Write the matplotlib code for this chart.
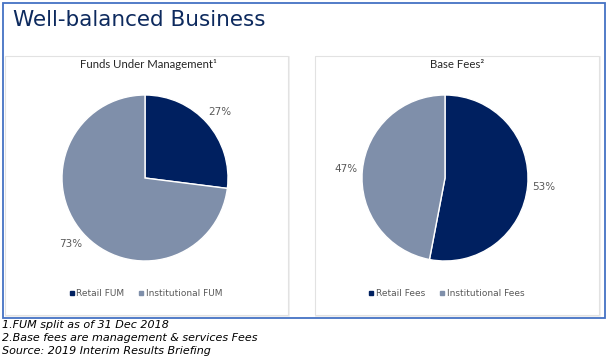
import matplotlib
matplotlib.use("Agg")
import matplotlib.pyplot as plt
from matplotlib.patches import Rectangle
from matplotlib.lines import Line2D

# ---- data ----
title = "Well-balanced Business"
fum_labels = ["Retail FUM", "Institutional FUM"]
fum_values = [27, 73]
fees_labels = ["Retail Fees", "Institutional Fees"]
fees_values = [53, 47]
panel_titles = ["Funds Under Management\u00b9", "Base Fees\u00b2"]
footnotes = ["1.FUM split as of 31 Dec 2018",
             "2.Base fees are management & services Fees",
             "Source: 2019 Interim Results Briefing"]
colors = ["#002060", "#7F8FAA"]

W, H = 616, 361
fig = plt.figure(figsize=(W / 100, H / 100), dpi=100)
fig.patch.set_facecolor("white")

def fx(x):
    return x / W

def fy(y):
    return 1 - y / H

# outer blue box
fig.patches.append(Rectangle((fx(3), fy(318)), fx(605) - fx(3), fy(3) - fy(318),
                             transform=fig.transFigure, fill=False,
                             edgecolor="#4472C4", linewidth=1.3, zorder=0))
# panels
for x0, x1 in [(5, 288), (315, 599)]:
    fig.patches.append(Rectangle((fx(x0 + 1), fy(316)), fx(x1) - fx(x0), fy(57) - fy(316),
                                 transform=fig.transFigure, fill=False,
                                 edgecolor="#EDEDED", linewidth=1.2, zorder=0))
    fig.patches.append(Rectangle((fx(x0), fy(315)), fx(x1) - fx(x0), fy(56) - fy(315),
                                 transform=fig.transFigure, facecolor="white",
                                 edgecolor="#E2E2E2", linewidth=0.8, zorder=0))

fig.text(fx(13), fy(20), title, fontsize=15.5, color="#0D2A5E",
         family="DejaVu Sans", va="center", ha="left")

def draw_pie(cx, cy, r, values, labels, ptitle, tx, legx):
    ax = fig.add_axes([fx(cx - r), fy(cy + r), fx(2 * r), fy(cy - r) - fy(cy + r)])
    ax.set_zorder(3)
    ax.patch.set_alpha(0)
    wedges, texts, autotexts = ax.pie(values, colors=colors, startangle=90,
                                      counterclock=False,
                                      autopct=lambda p: f"{round(p):d}%",
                                      pctdistance=1.2,
                                      wedgeprops=dict(edgecolor="white", linewidth=1.0))
    for t in autotexts:
        t.set_fontsize(7.5)
        t.set_color("#595959")
        t.set_family("DejaVu Sans")
    ax.set_xlim(-1, 1)
    ax.set_ylim(-1, 1)
    ax.set_aspect("equal")
    ax.axis("off")
    fig.text(fx(tx), fy(64), ptitle, fontsize=8.2, family="Lato",
             color="#262626", ha="center", va="center", zorder=4)
    handles = [Line2D([], [], marker="s", linestyle="none", markersize=2.8,
                      color=c) for c in colors]
    leg = fig.legend(handles, labels, ncol=2, loc="center",
                     bbox_to_anchor=(fx(legx), fy(294)), frameon=False,
                     handlelength=0.5, handletextpad=0.3,
                     columnspacing=1.6, prop=dict(family="DejaVu Sans", size=6.5),
                     labelcolor="#595959")
    leg.set_zorder(4)

draw_pie(145, 178, 83, fum_values, fum_labels, panel_titles[0], 148, 146)
draw_pie(445, 178, 83, fees_values, fees_labels, panel_titles[1], 457, 447)

for i, line in enumerate(footnotes):
    fig.text(fx(2), fy(325 + 13 * i), line, fontsize=8, family="DejaVu Sans",
             style="italic", color="#000000", ha="left", va="center", zorder=4)

fig.savefig("out.png", dpi=100)
